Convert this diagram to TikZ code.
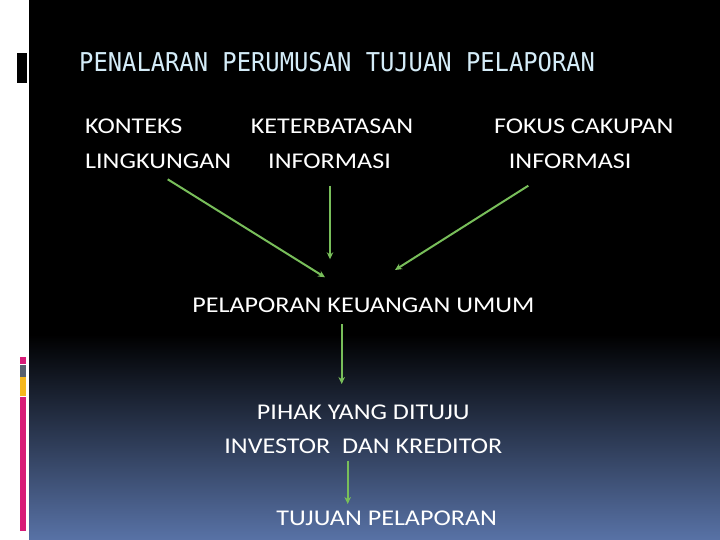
\documentclass[tikz,border=0pt]{standalone}
\usepackage{fontspec}
\usepackage{graphicx}
\usetikzlibrary{arrows.meta}
\newfontfamily\bodyfont[FakeStretch=1.16]{Carlito}
\newfontfamily\titlefont{DejaVu Sans Mono}
\definecolor{titleblue}{RGB}{212,236,248}
\definecolor{arrowgreen}{RGB}{120,190,90}
\definecolor{bgblue}{RGB}{88,114,166}
\definecolor{barmag}{RGB}{216,28,120}
\definecolor{bargray}{RGB}{88,96,110}
\definecolor{baryellow}{RGB}{246,184,30}
\tikzset{
  bodytext/.style={inner sep=0pt, text=white, font=\bodyfont\fontsize{22.5}{27}\selectfont},
  arr/.style={draw=arrowgreen, line width=2pt, -{Stealth[length=7pt,width=6.5pt]}}
}
\begin{document}
\begin{tikzpicture}[x=1pt,y=-1pt]
\useasboundingbox (0,0) rectangle (720,540);
% background
\fill[white] (0,0) rectangle (720,540);
\fill[black] (29,0) rectangle (720,335);
\shade[top color=black, bottom color=bgblue] (29,334.5) rectangle (720,540);
% left bars
\fill[black] (16.7,52.7) rectangle (27.3,82.7);
\fill[barmag] (20,356.7) rectangle (26,364);
\fill[bargray] (20,365) rectangle (26,376.7);
\fill[baryellow] (20,376.7) rectangle (26,396);
\fill[barmag] (20,397.3) rectangle (26,530.7);
% title
\node[inner sep=0pt, anchor=base west, text=titleblue, font=\titlefont\fontsize{23.8}{28}\selectfont] (title) at (79,71.4) {\scalebox{1}[1.09]{PENALARAN PERUMUSAN TUJUAN PELAPORAN}};
% texts
\node[bodytext, anchor=base west] (konteks) at (85,133.3) {KONTEKS};
\node[bodytext, anchor=base west] (lingk) at (85,168.3) {LINGKUNGAN};
\node[bodytext, anchor=base] (keterb) at (332,133.3) {KETERBATASAN};
\node[bodytext, anchor=base] (info1) at (329.5,168.3) {INFORMASI};
\node[bodytext, anchor=base] (fokus) at (583.7,133.3) {FOKUS CAKUPAN};
\node[bodytext, anchor=base] (info2) at (570.2,168.3) {INFORMASI};
\node[bodytext, anchor=base] (plku) at (363.3,312.3) {PELAPORAN KEUANGAN UMUM};
\node[bodytext, anchor=base] (pihak) at (363.3,419.3) {PIHAK YANG DITUJU};
\node[bodytext, anchor=base] (invest) at (363.3,453.3) {INVESTOR\ \ DAN KREDITOR};
\node[bodytext, anchor=base] (tujuan) at (386.7,525.7) {TUJUAN PELAPORAN};
% arrow end points
\coordinate (a1s) at (167.7,179.3);
\coordinate (a1e) at (325,277.3);
\coordinate (a2s) at (330,185.7);
\coordinate (a2e) at (330,259.3);
\coordinate (a3s) at (528.3,185.7);
\coordinate (a3e) at (395,270);
\coordinate (a4s) at (341.7,324);
\coordinate (a4e) at (341.7,384);
\coordinate (a5s) at (347.7,460.5);
\coordinate (a5e) at (347.7,504);
\draw[arr] (a1s) -- (a1e);
\draw[arr] (a2s) -- (a2e);
\draw[arr] (a3s) -- (a3e);
\draw[arr] (a4s) -- (a4e);
\draw[arr] (a5s) -- (a5e);
\end{tikzpicture}
\end{document}
